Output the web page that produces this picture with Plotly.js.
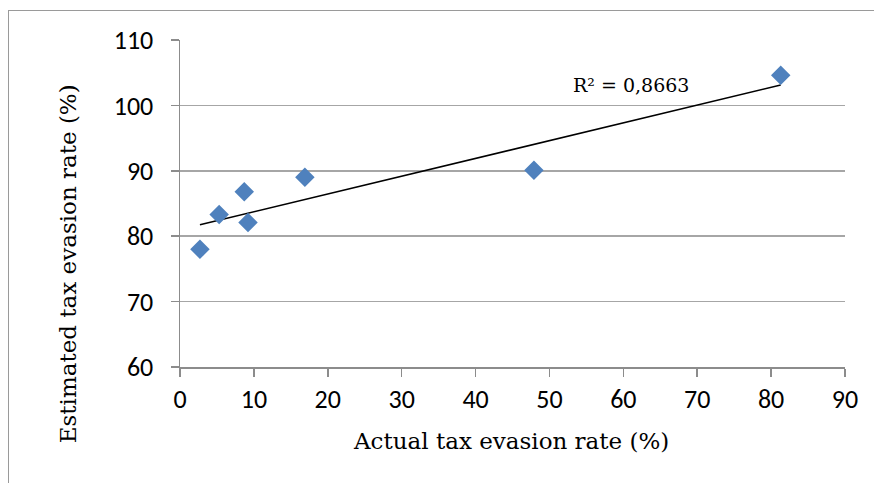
<!DOCTYPE html>
<html>
<head>
<meta charset="utf-8">
<script src="https://cdn.plot.ly/plotly-3.0.1.min.js"></script>
<style>
html,body{margin:0;padding:0;background:#fff;}
#frame{position:absolute;left:8px;top:10px;width:900px;height:500px;border:1px solid #9a9a9a;box-sizing:border-box;}
#chart{position:absolute;left:0;top:0;width:874px;height:483px;}
</style>
</head>
<body>
<div id="frame"></div>
<div id="chart"></div>
<script>
const actualRate = [2.7, 5.3, 8.7, 9.2, 16.9, 47.9, 81.3];
const estimatedRate = [78.0, 83.3, 86.8, 82.1, 89.0, 90.1, 104.6];
const r2Label = "R² = 0,8663";
const xTitle = "Actual tax evasion rate (%)";
const yTitle = "Estimated tax evasion rate (%)";

// linear least-squares trendline
const n = actualRate.length;
const mx = actualRate.reduce((a,b)=>a+b,0)/n;
const my = estimatedRate.reduce((a,b)=>a+b,0)/n;
let sxy=0, sxx=0;
for(let i=0;i<n;i++){sxy+=(actualRate[i]-mx)*(estimatedRate[i]-my);sxx+=(actualRate[i]-mx)**2;}
const slope = sxy/sxx, intercept = my - slope*mx;
const xmin = Math.min(...actualRate), xmax = Math.max(...actualRate);
const trendX = [xmin, xmax];
const trendY = trendX.map(x=>intercept+slope*x);

const tickFont = {family:"Carlito, 'Liberation Sans', Arial, sans-serif", size:26, color:"#000"};
const serif = "'DejaVu Serif', 'Liberation Serif', serif";
const titleFont = {family:serif, size:23, color:"#000"};

const data = [
  {x:trendX, y:trendY, type:"scatter", mode:"lines", line:{color:"#000", width:1.6}, hoverinfo:"skip", showlegend:false},
  {x:actualRate, y:estimatedRate, type:"scatter", mode:"markers",
   marker:{symbol:"diamond", size:15, color:"#4F81BD", line:{width:0}}, showlegend:false}
];
const layout = {
  width:874, height:483,
  margin:{l:180, r:29, t:40, b:116},
  paper_bgcolor:"rgba(0,0,0,0)", plot_bgcolor:"rgba(0,0,0,0)",
  xaxis:{range:[0,90], dtick:10, tick0:0, showgrid:false, zeroline:false,
    showline:true, linecolor:"#8c8c8c", linewidth:1.5,
    ticks:"outside", ticklen:8, tickcolor:"#8c8c8c", tickwidth:1.5,
    tickfont:tickFont},
  yaxis:{range:[60,110], dtick:10, tick0:60, showgrid:true, gridcolor:"#a6a6a6", gridwidth:1.5, zeroline:false,
    showline:true, linecolor:"#8c8c8c", linewidth:1.5,
    ticks:"outside", ticklen:8, tickcolor:"#8c8c8c", tickwidth:1.5,
    ticklabelstandoff:12, tickfont:tickFont},
  annotations:[
    {x:61, y:103.1, xref:"x", yref:"y", text:r2Label, showarrow:false,
     font:{family:serif, size:19, color:"#000"}},
    {x:0.497, y:-0.226, xref:"paper", yref:"paper", xanchor:"center", yanchor:"middle",
     text:xTitle, showarrow:false, font:titleFont},
    {x:-0.168, y:0.315, xref:"paper", yref:"paper", xanchor:"center", yanchor:"middle",
     text:yTitle, textangle:-90, showarrow:false, font:titleFont}
  ]
};
Plotly.newPlot("chart", data, layout, {displayModeBar:false, staticPlot:true});
</script>
</body>
</html>
